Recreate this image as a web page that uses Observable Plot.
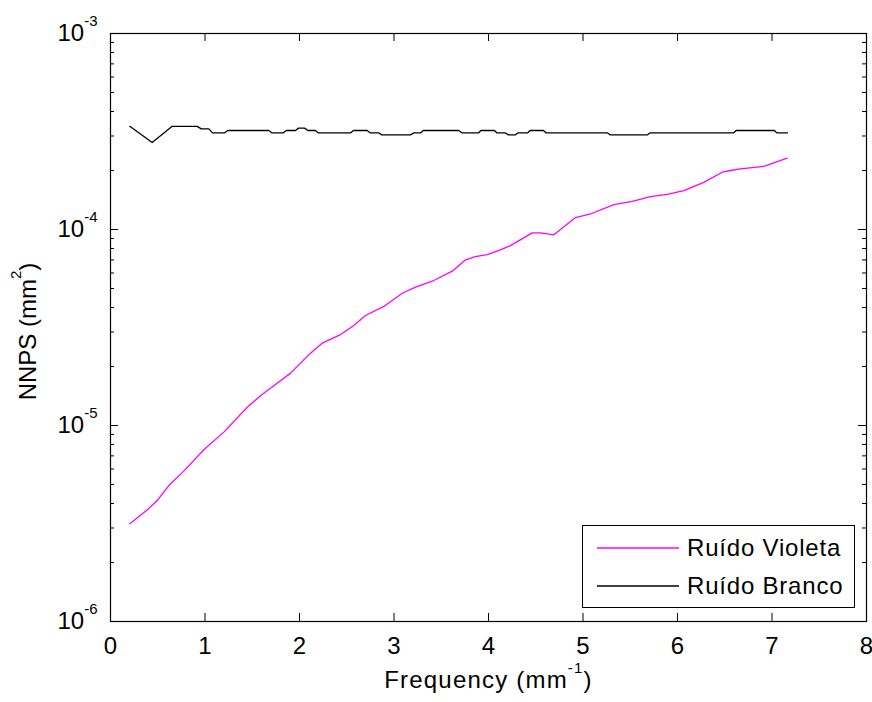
<!DOCTYPE html>
<html>
<head>
<meta charset="utf-8">
<script src="https://cdn.jsdelivr.net/npm/d3@7"></script>
<script src="https://cdn.jsdelivr.net/npm/@observablehq/plot@0.6"></script>
<style>
  html, body { margin: 0; padding: 0; background: white; }
  #wrap { position: relative; width: 872px; height: 702px; }
  #wrap svg .ls text { letter-spacing: 1.2px; }
  #legend {
    position: absolute; left: 582px; top: 525px; width: 273px; height: 83px;
    border: 1px solid #000; background: white; box-sizing: border-box;
    font-family: "Liberation Sans", Arial, sans-serif; font-size: 24px; color: #000; letter-spacing: 0.8px;
  }
  .row { position: absolute; left: 14px; height: 28px; display: flex; align-items: center; }
  .row svg { margin-right: 8px; }
</style>
</head>
<body>
<div id="wrap"></div>
<script>
// ---- data ----
const xTicks = [0, 1, 2, 3, 4, 5, 6, 7, 8];
const yDecades = [1e-6, 1e-5, 1e-4, 1e-3];
const seriesNames = ["Ruído Violeta", "Ruído Branco"];
const seriesColors = ["#ff00ff", "#000000"];

const violetFreq = [0.204, 0.388, 0.494, 0.617, 0.776, 0.987, 1.199, 1.447, 1.587, 1.746, 1.905, 2.116, 2.240, 2.434, 2.575, 2.698, 2.892, 3.087, 3.228, 3.421, 3.616, 3.757, 3.862, 3.986, 4.127, 4.233, 4.462, 4.550, 4.691, 4.921, 5.079, 5.326, 5.521, 5.714, 5.891, 6.067, 6.278, 6.473, 6.561, 6.667, 6.913, 7.161];
const violetNNPS = [3.15e-6, 3.71e-6, 4.14e-6, 4.94e-6, 5.85e-6, 7.52e-6, 9.25e-6, 1.24e-5, 1.42e-5, 1.62e-5, 1.85e-5, 2.34e-5, 2.63e-5, 2.91e-5, 3.24e-5, 3.64e-5, 4.05e-5, 4.73e-5, 5.08e-5, 5.49e-5, 6.13e-5, 7.00e-5, 7.28e-5, 7.45e-5, 7.87e-5, 8.28e-5, 9.61e-5, 9.61e-5, 9.39e-5, 1.15e-4, 1.20e-4, 1.34e-4, 1.39e-4, 1.47e-4, 1.51e-4, 1.58e-4, 1.74e-4, 1.96e-4, 2.00e-4, 2.04e-4, 2.10e-4, 2.31e-4];

const whiteFreq = [0.204, 0.441, 0.653, 0.917, 0.96, 1.04, 1.08, 1.206, 1.24, 1.676, 1.71, 1.827, 1.86, 1.958, 1.99, 2.053, 2.09, 2.169, 2.20, 2.540, 2.57, 2.716, 2.75, 2.840, 2.87, 3.175, 3.21, 3.280, 3.31, 3.686, 3.72, 3.894, 3.92, 4.063, 4.09, 4.18, 4.21, 4.286, 4.31, 4.413, 4.44, 4.582, 4.61, 5.259, 5.29, 5.683, 5.71, 6.593, 6.62, 7.026, 7.05, 7.164];
const whiteNNPS = [3.36e-4, 2.78e-4, 3.36e-4, 3.36e-4, 3.26e-4, 3.26e-4, 3.11e-4, 3.11e-4, 3.20e-4, 3.20e-4, 3.11e-4, 3.11e-4, 3.20e-4, 3.20e-4, 3.29e-4, 3.29e-4, 3.20e-4, 3.20e-4, 3.11e-4, 3.11e-4, 3.20e-4, 3.20e-4, 3.11e-4, 3.11e-4, 3.04e-4, 3.04e-4, 3.11e-4, 3.11e-4, 3.20e-4, 3.20e-4, 3.11e-4, 3.11e-4, 3.20e-4, 3.20e-4, 3.11e-4, 3.11e-4, 3.04e-4, 3.04e-4, 3.11e-4, 3.11e-4, 3.20e-4, 3.20e-4, 3.11e-4, 3.11e-4, 3.04e-4, 3.04e-4, 3.11e-4, 3.11e-4, 3.20e-4, 3.20e-4, 3.11e-4, 3.11e-4];

// "^{...}" marks a superscript
const xLabel = "Frequency (mm^{-1})";
const yLabel = "NNPS (mm^{2})";

// ---- build ----
const violet = violetFreq.map((f, i) => ({f, v: violetNNPS[i]}));
const white = whiteFreq.map((f, i) => ({f, v: whiteNNPS[i]}));
const yMinor = [];
for (const d of yDecades.slice(0, -1)) for (let k = 2; k <= 9; k++) yMinor.push(d * k);

const W = 872, H = 702, mL = 110, mR = 6, mT = 33, mB = 81;
const pw = W - mL - mR, ph = H - mT - mB;
const FS = 24;
const fmtY = d => "10^{" + Math.round(Math.log10(d)) + "}";

const chart = Plot.plot({
  width: W, height: H,
  marginLeft: mL, marginRight: mR, marginTop: mT, marginBottom: mB,
  style: {fontFamily: "'Liberation Sans', Arial, sans-serif", fontSize: FS + "px", color: "#000", background: "white"},
  x: {domain: [0, 8], label: null},
  y: {type: "log", domain: [1e-6, 1e-3], label: null},
  marks: [
    Plot.axisX(xTicks, {anchor: "bottom", tickSize: 0, tickPadding: 15, tickFormat: d => String(d), fontSize: FS, label: null}),
    Plot.axisY(yDecades, {anchor: "left", tickSize: 0, tickPadding: 13, tickFormat: fmtY, fontSize: FS, label: null}),
    // inward ticks
    Plot.tickX(xTicks, {x: d => d, insetTop: ph - 8, stroke: "#000"}),
    Plot.tickX(xTicks, {x: d => d, insetBottom: ph - 8, stroke: "#000"}),
    Plot.tickY(yDecades, {y: d => d, insetRight: pw - 8, stroke: "#000"}),
    Plot.tickY(yDecades, {y: d => d, insetLeft: pw - 8, stroke: "#000"}),
    Plot.tickY(yMinor, {y: d => d, insetRight: pw - 4, stroke: "#000"}),
    Plot.tickY(yMinor, {y: d => d, insetLeft: pw - 4, stroke: "#000"}),
    Plot.line(white, {x: "f", y: "v", stroke: seriesColors[1], strokeWidth: 1.3}),
    Plot.line(violet, {x: "f", y: "v", stroke: seriesColors[0], strokeWidth: 1.3}),
    Plot.frame({stroke: "#000", strokeWidth: 1.2}),
    Plot.text([xLabel], {frameAnchor: "bottom", textAnchor: "middle", dy: 66, fontSize: FS, fill: "#000", className: "ls"}),
    Plot.text([yLabel], {frameAnchor: "left", textAnchor: "middle", dx: -82, dy: 4, rotate: -90, fontSize: FS, fill: "#000"})
  ]
});

const wrap = document.getElementById("wrap");
wrap.appendChild(chart);

// turn "^{..}" markers into real superscript tspans
const NS = "http://www.w3.org/2000/svg";
chart.querySelectorAll("text").forEach(t => {
  const s = t.textContent;
  if (!s.includes("^{")) return;
  const parts = s.split(/\^\{([^}]*)\}/);
  t.textContent = "";
  parts.forEach((p, i) => {
    if (p === "") return;
    const ts = document.createElementNS(NS, "tspan");
    ts.textContent = p;
    if (i % 2 === 1) {
      ts.setAttribute("font-size", 15);
      ts.setAttribute("dy", -15);
    } else if (i > 0) {
      ts.setAttribute("dy", 15);
    }
    t.appendChild(ts);
  });
});

const legend = document.createElement("div");
legend.id = "legend";
seriesNames.forEach((name, i) => {
  const row = document.createElement("div");
  row.className = "row";
  row.style.top = (i === 0 ? 8 : 46) + "px";
  row.innerHTML = `<svg width="82" height="4"><line x1="0" x2="82" y1="2" y2="2" stroke="${seriesColors[i]}" stroke-width="1.3"/></svg><span>${name}</span>`;
  legend.appendChild(row);
});
wrap.appendChild(legend);
</script>
</body>
</html>
